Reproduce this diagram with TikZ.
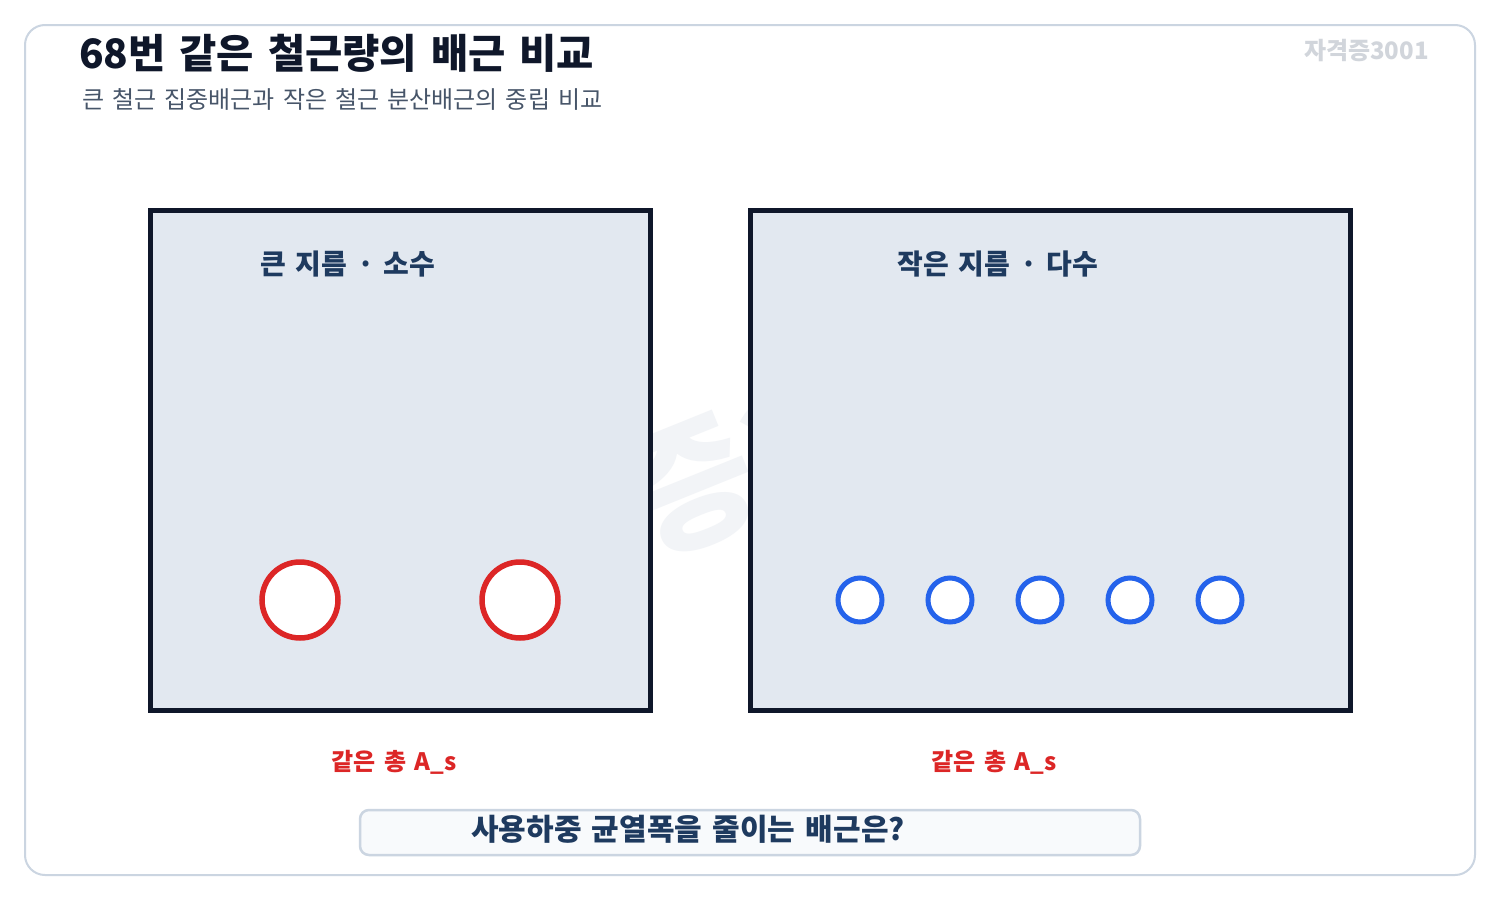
\documentclass[tikz,border=0pt]{standalone}
\usepackage{fontspec}
\setmainfont{Noto Sans CJK KR}[WordSpace=1.5]
\definecolor{frame}{HTML}{CBD5E1}
\definecolor{ink}{HTML}{0F172A}
\definecolor{sub}{HTML}{475569}
\definecolor{navy}{HTML}{1E3A5F}
\definecolor{panel}{HTML}{E2E8F0}
\definecolor{rbar}{HTML}{DC2626}
\definecolor{bbar}{HTML}{2563EB}
\definecolor{wm}{HTML}{F2F4F7}
\definecolor{tag}{HTML}{D1D5DB}
\definecolor{qfill}{HTML}{F8FAFC}
\tikzset{
  panelbox/.style={draw=ink, fill=panel, line width=5pt, minimum width=500pt, minimum height=500pt, inner sep=0pt},
  bigbar/.style={circle, draw=rbar, fill=white, line width=5.5pt, minimum size=76pt, inner sep=0pt},
  smallbar/.style={circle, draw=bbar, fill=white, line width=5pt, minimum size=44pt, inner sep=0pt},
  paneltitle/.style={text=navy, font=\fontsize{28}{31}\selectfont\bfseries},
  astext/.style={text=rbar, font=\fontsize{24}{27}\selectfont\bfseries},
}
\begin{document}
\begin{tikzpicture}[x=1pt,y=-1pt]
\useasboundingbox (0,0) rectangle (1500,900);
\fill[white] (0,0) rectangle (1500,900);
\node[draw=frame, fill=white, line width=2pt, rounded corners=20pt, minimum width=1450pt, minimum height=850pt, inner sep=0pt] (frame) at (750,450) {};
% watermark
\node[text=wm, rotate=22, font=\fontsize{140}{150}\selectfont\bfseries] (wmark) at (728,468) {자격증3001};
% header
\node[anchor=west, text=ink, inner sep=0pt, font=\fontsize{40.5}{44}\selectfont\bfseries] (title) at (79,53) {68번 같은 철근량의 배근 비교};
\node[anchor=west, text=sub, inner sep=0pt, font=\fontsize{24}{27}\selectfont] (subtitle) at (82,99) {큰 철근 집중배근과 작은 철근 분산배근의 중립 비교};
\node[anchor=east, text=tag, inner sep=0pt, font=\fontsize{24}{26}\selectfont\bfseries] (tag) at (1429,51) {자격증3001};
% panels
\node[panelbox] (left) at (400,460) {};
\node[panelbox, minimum width=600pt] (right) at (1050,460) {};
\node[paneltitle] (ltitle) at (348,264) {큰 지름 · 소수};
\node[paneltitle] (rtitle) at (998,264) {작은 지름 · 다수};
% bars
\node[bigbar] (r1) at (300,600) {};
\node[bigbar] (r2) at (520,600) {};
\foreach \i/\x in {1/860,2/950,3/1040,4/1130,5/1220}
  \node[smallbar] (b\i) at (\x,600) {};
% labels
\node[astext] (las) at (394,762) {같은 총 A\_s};
\node[astext] (ras) at (994,762) {같은 총 A\_s};
% question
\node[draw=frame, fill=qfill, line width=2.5pt, rounded corners=9pt, minimum width=780pt, minimum height=45pt, inner sep=0pt] (qbox) at (750,832.5) {};
\node[text=navy, font=\fontsize{30}{33}\selectfont\bfseries] (qtext) at (688,829) {사용하중 균열폭을 줄이는 배근은?};
\end{tikzpicture}
\end{document}
